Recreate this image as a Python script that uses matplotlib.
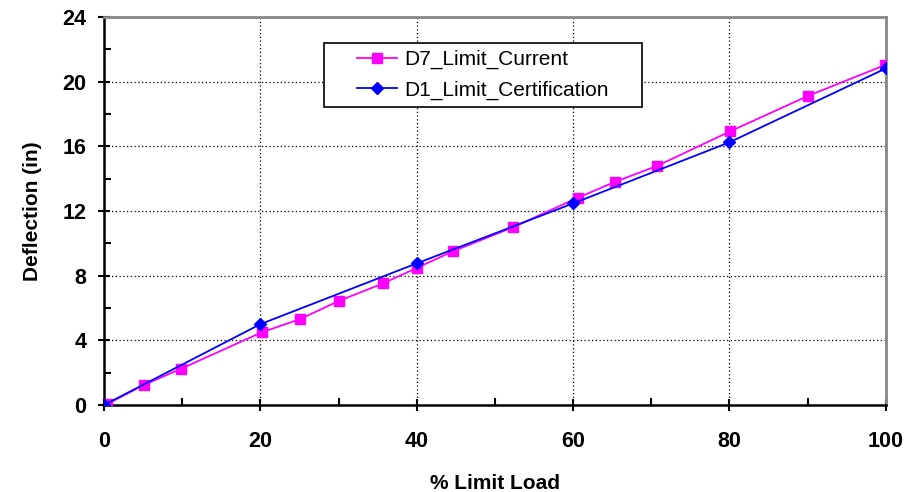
import matplotlib
matplotlib.use("Agg")
from matplotlib import pyplot as plt
from matplotlib.ticker import MultipleLocator
from matplotlib.patches import Rectangle

plt.rcParams['font.family'] = ['Liberation Sans', 'DejaVu Sans']

# D7 limit, current
load_d7 = [0.4, 5.1, 9.8, 20.2, 25.1, 30.0, 35.7, 40.1, 44.7, 52.3, 60.6, 65.4, 70.8, 80.1, 90.1, 99.9]
defl_d7 = [0.05, 1.24, 2.23, 4.5, 5.32, 6.43, 7.52, 8.5, 9.52, 10.99, 12.82, 13.81, 14.8, 16.93, 19.13, 21.03]

# D1 limit, certification
load_d1 = [0, 20, 40, 60, 80, 100]
defl_d1 = [0, 5.0, 8.76, 12.47, 16.25, 20.82]

fig = plt.figure(figsize=(9.16, 4.92), dpi=100)
ax = fig.add_axes([0.1135, 0.1768, 0.8535, 0.7886])

ax.plot(load_d7, defl_d7, color='#ff00ff', marker='s', markersize=7, lw=1.3,
        label='D7_Limit_Current', zorder=3)
ax.plot(load_d1, defl_d1, color='#0000ff', marker='D', markersize=6.5, lw=1.3,
        label='D1_Limit_Certification', zorder=4)

ax.set_xlim(0, 100)
ax.set_ylim(0, 24)
ax.xaxis.set_major_locator(MultipleLocator(20))
ax.xaxis.set_minor_locator(MultipleLocator(10))
ax.yaxis.set_major_locator(MultipleLocator(4))
ax.yaxis.set_minor_locator(MultipleLocator(2))
ax.grid(which='major', color='black', linestyle=(0, (1, 2)), lw=0.9)

ax.tick_params(which='major', direction='inout', length=9, width=1.5, labelsize=15.5)
ax.tick_params(axis='x', which='major', pad=14)
ax.tick_params(axis='y', which='major', pad=8)
ax.tick_params(which='minor', direction='in', length=5, width=1.5)
for lab in ax.get_xticklabels() + ax.get_yticklabels():
    lab.set_fontweight('bold')

ax.spines['left'].set_linewidth(1.8)
ax.spines['bottom'].set_linewidth(1.8)
for s in ('top', 'right'):
    ax.spines[s].set_color('#888888')
    ax.spines[s].set_linewidth(2)

ax.set_xlabel('% Limit Load', fontsize=15, fontweight='bold', labelpad=16)
ax.set_ylabel('Deflection (in)', fontsize=15, fontweight='bold', labelpad=15)

# legend box
box = Rectangle((0.281, 0.768), 0.407, 0.166, transform=ax.transAxes,
                facecolor='white', edgecolor='black', lw=1.2, zorder=5)
ax.add_patch(box)
leg = ax.legend(loc='center', bbox_to_anchor=(0.4845, 0.851), fontsize=15,
                frameon=False, borderpad=0, handlelength=1.9,
                handletextpad=0.35, labelspacing=0.55)
leg.set_zorder(6)

fig.savefig('out.png', dpi=100)
